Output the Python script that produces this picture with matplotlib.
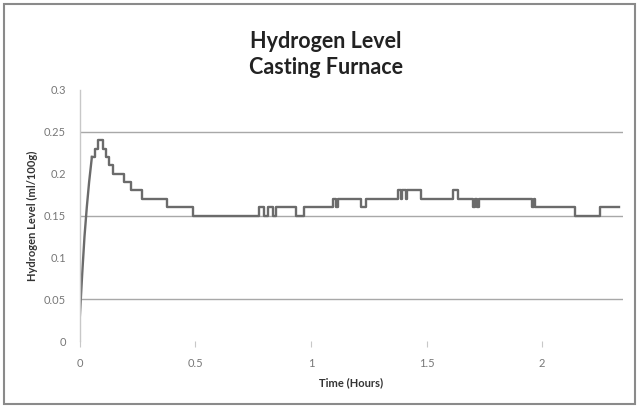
import matplotlib
matplotlib.use("Agg")
import matplotlib.pyplot as plt
from matplotlib.patches import Rectangle

# Initial rise (smooth part)
rise_t = [0.0, 0.01, 0.02, 0.03, 0.04, 0.05, 0.052]
rise_v = [0.03, 0.08, 0.125, 0.16, 0.19, 0.215, 0.22]

# Step part: change times and the level held from that time on
step_t = [0.052, 0.065, 0.078, 0.099, 0.112, 0.125, 0.143, 0.19, 0.22, 0.268,
          0.376, 0.49, 0.773, 0.795, 0.812, 0.834, 0.847, 0.937, 0.968, 1.097,
          1.106, 1.115, 1.218, 1.24, 1.378, 1.39, 1.395, 1.41, 1.415, 1.477,
          1.616, 1.637, 1.702, 1.711, 1.72, 1.728, 1.957, 1.966, 1.97, 2.143,
          2.25, 2.333]
step_v = [0.22, 0.23, 0.24, 0.23, 0.22, 0.21, 0.20, 0.19, 0.18, 0.17,
          0.16, 0.15, 0.16, 0.15, 0.16, 0.15, 0.16, 0.15, 0.16, 0.17,
          0.16, 0.17, 0.16, 0.17, 0.18, 0.17, 0.18, 0.17, 0.18, 0.17,
          0.18, 0.17, 0.16, 0.17, 0.16, 0.17, 0.16, 0.17, 0.16, 0.15,
          0.16, 0.16]

x_ticks = [0, 0.5, 1, 1.5, 2]
x_labels = ["0", "0.5", "1", "1.5", "2"]
y_ticks = [0, 0.05, 0.1, 0.15, 0.2, 0.25, 0.3]
y_labels = ["0", "0.05", "0.1", "0.15", "0.2", "0.25", "0.3"]
grid_levels = [0.05, 0.15, 0.25]

title = "Hydrogen Level\nCasting Furnace"
xlabel = "Time (Hours)"
ylabel = "Hydrogen Level (ml/100g)"

plt.rcParams['font.family'] = ['Lato', 'DejaVu Sans']

fig = plt.figure(figsize=(6.39, 4.07), dpi=100)
fig.patches.append(Rectangle((0.006, 0.008), 0.988, 0.982, transform=fig.transFigure,
                             fill=False, edgecolor='#8a8a8a', linewidth=1.5))
ax = fig.add_axes([0.125, 0.162, 0.85, 0.617])

line_color = '#6b6b6b'
ax.plot(rise_t, rise_v, color=line_color, linewidth=1.7)
ax.step(step_t, step_v, where='post', color=line_color, linewidth=1.7)

for g in grid_levels:
    ax.axhline(g, color='#a8a8a8', linewidth=1.0, zorder=0)

ax.set_xlim(0, 2.35)
ax.set_ylim(0, 0.3)
ax.set_xticks(x_ticks)
ax.set_xticklabels(x_labels)
ax.set_yticks(y_ticks)
ax.set_yticklabels(y_labels)

for s in ['top', 'right', 'bottom']:
    ax.spines[s].set_visible(False)
ax.spines['left'].set_color('#c8c8c8')
ax.spines['left'].set_linewidth(1.0)

ax.tick_params(axis='x', direction='out', length=4, width=0.8, color='#c8c8c8',
               labelsize=8, labelcolor='#777777', pad=8)
ax.tick_params(axis='y', length=0, labelsize=8, labelcolor='#777777', pad=10)

ax.set_xlabel(xlabel, fontsize=8, fontweight='bold', color='#333333', labelpad=6)
ax.set_ylabel(ylabel, fontsize=8, fontweight='bold', color='#333333', labelpad=4)

fig.text(0.51, 0.865, title, ha='center', va='center', fontsize=15.5,
         fontweight='bold', color='#222222', linespacing=1.3)

fig.savefig("out.png", dpi=100)
